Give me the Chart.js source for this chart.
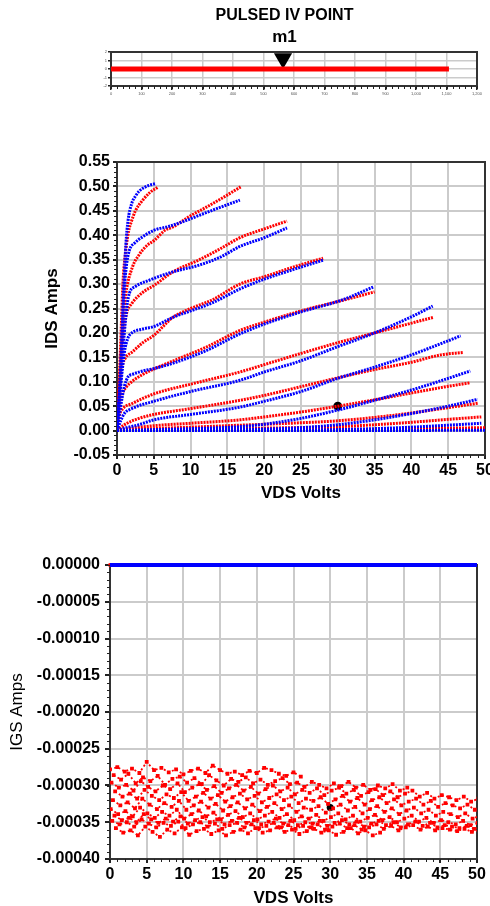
<!DOCTYPE html>
<html>
<head>
<meta charset="utf-8">
<title>Pulsed IV</title>
<script src="https://cdn.jsdelivr.net/npm/chart.js@4.4.1/dist/chart.umd.min.js"></script>
<style>
  html, body { margin: 0; padding: 0; background: #fff; overflow: hidden; }
  body { width: 490px; height: 906px; position: relative; }
  canvas { position: absolute; left: 0; }
</style>
</head>
<body>
<canvas id="slider" width="490" height="100" style="top:0"></canvas>
<canvas id="grafico" width="490" height="385" style="top:130px"></canvas>
<canvas id="graficoIgs" width="490" height="372" style="top:540px"></canvas>
<script>
// ---- datos del slider (punto de pulso) ----
const pulsoEje = [0, 1108]
const marcadorPulso = 564

// ---- curvas IDS vs VDS, pares [VDS, IDS] ----
const azul1 = [[0,0],[0.5,0.12],[0.8,0.25],[1.0,0.32],[1.2,0.38],[1.5,0.43],[2.0,0.465],[2.5,0.48],[3,0.49],[4,0.5],[5.3,0.506]]
const rojo1 = [[0,0],[0.3,0.1],[0.6,0.22],[0.8,0.3],[1.2,0.37],[1.6,0.41],[2,0.43],[2.5,0.45],[3.5,0.472],[4.5,0.488],[5.5,0.498]]
const azul2 = [[0,0],[0.4,0.1],[0.7,0.2],[1,0.29],[1.3,0.34],[1.7,0.37],[2.4,0.384],[3.5,0.397],[5,0.41],[7,0.418],[9,0.428],[11.2,0.441],[14,0.457],[16.7,0.472]]
const rojo2 = [[0,0],[0.4,0.12],[0.8,0.22],[1.2,0.28],[2.1,0.335],[3,0.36],[4,0.378],[5.1,0.39],[6.5,0.41],[7.6,0.417],[10,0.44],[12.2,0.458],[14.5,0.478],[16.8,0.499]]
const azul3 = [[0,0],[0.5,0.1],[1,0.2],[1.4,0.26],[1.7,0.282],[2.5,0.295],[4.4,0.308],[7.6,0.325],[11.2,0.339],[14,0.355],[16.7,0.377],[20,0.395],[23.1,0.415]]
const rojo3 = [[0,0],[0.4,0.1],[0.8,0.19],[1.3,0.24],[2,0.26],[3.5,0.283],[5.1,0.298],[7.6,0.325],[11.2,0.35],[14,0.372],[16.7,0.395],[20,0.413],[23.1,0.429]]
const azul4 = [[0,0],[0.5,0.09],[1,0.16],[1.5,0.19],[2,0.2],[3.5,0.208],[5,0.213],[7.6,0.232],[10,0.245],[13,0.262],[16.7,0.29],[20,0.31],[24,0.33],[28,0.349]]
const rojo4 = [[0,0],[0.3,0.08],[0.7,0.13],[1.2,0.15],[2,0.16],[3.5,0.18],[5,0.195],[7.6,0.232],[10,0.25],[13,0.268],[16.7,0.3],[20,0.315],[24,0.335],[28,0.353]]
const azul5 = [[0,0],[0.5,0.05],[1,0.09],[1.5,0.11],[2.1,0.115],[3.5,0.122],[5.3,0.128],[8,0.14],[12,0.163],[16.7,0.198],[20,0.218],[25,0.243],[30.7,0.268],[34.8,0.294]]
const rojo5 = [[0,0],[0.3,0.05],[0.7,0.075],[1.3,0.09],[2,0.1],[3.5,0.115],[5.3,0.128],[8,0.145],[12,0.17],[16.7,0.205],[20,0.222],[25,0.245],[30.7,0.267],[35,0.284]]
const azul6 = [[0,0],[0.5,0.02],[1,0.035],[2,0.045],[5,0.06],[10,0.08],[16.7,0.103],[20,0.12],[25,0.143],[30,0.172],[35,0.2],[40,0.233],[42.9,0.255]]
const rojo6 = [[0,0],[0.3,0.03],[0.8,0.045],[2,0.055],[5,0.075],[10,0.095],[16.7,0.12],[20,0.135],[25,0.158],[30,0.18],[35,0.2],[40,0.22],[43,0.232]]
const azul7 = [[0,0],[1,0.005],[3,0.012],[5,0.022],[10,0.033],[16.7,0.048],[20,0.06],[25,0.08],[30,0.107],[35,0.13],[40,0.155],[44,0.178],[46.7,0.194]]
const rojo7 = [[0,0],[1,0.012],[3,0.025],[5,0.033],[10,0.045],[16.7,0.062],[20,0.072],[25,0.09],[30,0.108],[35,0.125],[40,0.14],[44,0.155],[47,0.16]]
const azul8 = [[0,0],[5,0.002],[10,0.004],[16.7,0.008],[20,0.013],[25,0.025],[30,0.042],[35,0.062],[40,0.083],[44,0.102],[48,0.122]]
const rojo8 = [[0,0],[2,0.005],[5,0.01],[10,0.015],[16.7,0.022],[20,0.028],[25,0.038],[30,0.05],[35,0.063],[40,0.077],[44,0.088],[48,0.098]]
const azul9 = [[0,0],[10,0.001],[16.7,0.002],[25,0.006],[30,0.012],[35,0.022],[40,0.035],[45,0.05],[49,0.064]]
const rojo9 = [[0,0],[5,0.004],[10,0.007],[16.7,0.011],[25,0.016],[30,0.02],[35,0.027],[40,0.036],[45,0.047],[49,0.056]]
const azul10 = [[0,0],[20,0.001],[30,0.002],[35,0.004],[40,0.007],[45,0.011],[49.5,0.015]]
const rojo10 = [[0,0],[10,0.002],[20,0.005],[30,0.008],[35,0.012],[40,0.017],[45,0.023],[49.5,0.028]]
const azul11 = [[0,0],[50,0.0005]]
const rojo11 = [[0,0],[20,0.001],[35,0.003],[50,0.006]]
const rojo12 = [[0,0],[15,0.0005],[35,0.001],[50,0.002]]
const marcadorIds = [30, 0.05]

// ---- IGS vs VDS (uA), un punto por volt; VDS inicial de cada traza ----
const inicioTraza = [0, 0.5, 0.2, 0.7, 0.4, 0.1, 0.6, 0.3, 0.8]
const traza1 = [-278,-275,-281,-277,-283,-268,-279,-276,-282,-278,-285,-280,-277,-283,-273,-279,-284,-281,-286,-280,-283,-276,-279,-284,-287,-282,-288]
const traza2 = [-286,-292,-284,-297,-289,-294,-287,-299,-291,-288,-296,-290,-298,-286,-293,-300,-291,-295,-289,-297,-292,-299,-294,-290,-298,-296,-302,-295,-299,-304,-297,-301,-295,-303,-299,-306,-300,-304,-298,-307,-303]
const traza3 = [-296,-303,-299,-307,-294,-302,-308,-300,-305,-297,-309,-303,-298,-306,-301,-310,-304,-299,-307,-302,-311,-305,-300,-308,-303,-312,-306,-310,-304,-313,-307,-303,-311,-306,-314,-309,-305,-313,-308,-316,-311,-307,-315,-310,-318,-313,-316,-320,-315,-322,-318]
const traza4 = [-308,-315,-311,-318,-306,-314,-320,-312,-317,-309,-321,-315,-310,-318,-313,-322,-316,-311,-319,-314,-323,-317,-312,-320,-315,-324,-318,-321,-316,-325,-319,-314,-322,-317,-326,-320,-316,-324,-319,-327,-322,-318,-326,-321,-329,-324,-327,-331,-326,-333,-329]
const traza5 = [-320,-327,-323,-331,-318,-326,-332,-324,-329,-321,-333,-327,-322,-330,-325,-334,-328,-323,-331,-326,-335,-329,-324,-332,-327,-336,-330,-333,-328,-337,-331,-326,-334,-329,-338,-332,-328,-336,-331,-339,-334,-330,-338,-333,-341,-336,-339,-343,-338,-345,-341]
const traza6 = [-332,-339,-335,-342,-330,-338,-344,-336,-341,-333,-345,-339,-334,-342,-337,-346,-340,-335,-343,-338,-346,-341,-336,-344,-339,-347,-342,-345,-340,-348,-343,-338,-346,-341,-349,-344,-340,-347,-343,-350,-345,-341,-349,-344,-351,-347,-350,-353,-348,-354,-351]
const traza7 = [-341,-347,-344,-350,-339,-346,-351,-345,-349,-342,-352,-347,-343,-350,-346,-353,-348,-344,-351,-347,-353,-349,-345,-352,-348,-354,-350,-352,-348,-355,-351,-347,-353,-349,-356,-352,-348,-354,-350,-357,-353,-349,-355,-351,-357,-354,-356,-358,-355,-359,-357]
const traza8 = [-348,-353,-350,-356,-346,-352,-357,-351,-355,-349,-358,-353,-350,-356,-352,-359,-354,-351,-357,-353,-358,-355,-351,-357,-354,-359,-355,-357,-353,-360,-356,-352,-358,-354,-360,-357,-353,-359,-355,-361,-357,-354,-360,-356,-361,-358,-360,-362,-359,-363,-361]
const traza9 = [-358,-364,-361,-368,-356,-363,-370,-360,-365,-357,-367,-362,-359,-366,-361,-368,-363,-360,-365,-358,-364,-361,-357,-363,-360,-366,-362,-359,-364,-361,-367,-363,-358,-365,-361,-368,-364]
const marcadorIgs = [30, -330]

const fuente = "'Liberation Sans', Arial, sans-serif"
const grisGrilla = '#cbcbcb'

// ticks menores
const ticksMenores = {
  id: 'ticksMenores',
  afterDraw(chart, args, opts) {
    const { ctx, chartArea, scales } = chart
    ctx.save()
    ctx.strokeStyle = '#222'
    ctx.lineWidth = 1
    if (opts.x) {
      const sx = scales.x
      const n = Math.round((sx.max - sx.min) / opts.x)
      for (let i = 0; i <= n; i++) {
        const px = Math.round(sx.getPixelForValue(sx.min + i * opts.x)) + 0.5
        ctx.beginPath(); ctx.moveTo(px, chartArea.bottom); ctx.lineTo(px, chartArea.bottom + 3); ctx.stroke()
      }
    }
    if (opts.y) {
      const sy = scales.y
      const n = Math.round((sy.max - sy.min) / opts.y)
      for (let i = 0; i <= n; i++) {
        const py = Math.round(sy.getPixelForValue(sy.min + i * opts.y)) + 0.5
        ctx.beginPath(); ctx.moveTo(chartArea.left - 3, py); ctx.lineTo(chartArea.left, py); ctx.stroke()
      }
    }
    ctx.restore()
  }
}
// marco del area de datos
const marco = {
  id: 'marco',
  beforeDatasetsDraw(chart) {
    const { ctx, chartArea: a } = chart
    ctx.save()
    ctx.strokeStyle = '#333'
    ctx.lineWidth = 2
    ctx.strokeRect(a.left, a.top, a.right - a.left, a.bottom - a.top)
    ctx.restore()
  }
}

const fijarEje = (alto, ancho) => (s) => {
  if (alto != null) s.height = alto
  if (ancho != null) s.width = ancho
  s.paddingLeft = 0; s.paddingRight = 0; s.paddingTop = 0; s.paddingBottom = 0
}

// ---------- slider ----------
new Chart(document.querySelector('#slider'), {
  type: 'scatter',
  data: {
    datasets: [
      {
        data: pulsoEje.map(v => ({ x: v, y: 0 })),
        showLine: true, borderColor: '#ff0000', borderWidth: 5, pointRadius: 0
      },
      {
        data: [{ x: marcadorPulso, y: 1.24 }],
        pointStyle: 'triangle', pointRotation: 180, pointRadius: 10.5,
        backgroundColor: '#000', borderWidth: 0
      }
    ]
  },
  plugins: [marco, ticksMenores],
  options: {
    responsive: false, animation: false, devicePixelRatio: 1,
    layout: { padding: { left: 92, right: 13, top: 0, bottom: 0 } },
    plugins: {
      legend: { display: false }, tooltip: { enabled: false },
      title: { display: true, text: 'PULSED IV POINT', color: '#000', font: { family: fuente, size: 16, weight: 'bold' }, padding: { top: 6, bottom: 0 } },
      subtitle: { display: true, text: 'm1', color: '#000', font: { family: fuente, size: 17, weight: 'bold' }, padding: { top: 2, bottom: 4.4 } },
      ticksMenores: { x: 20 }
    },
    scales: {
      x: {
        type: 'linear', min: 0, max: 1200, afterFit: fijarEje(14, null),
        ticks: { stepSize: 100, color: '#555', font: { family: fuente, size: 4 }, padding: 1, maxRotation: 0, autoSkip: false },
        grid: { color: grisGrilla, lineWidth: 1.5, tickLength: 4, tickColor: '#222' },
        border: { color: '#000', width: 2 }
      },
      y: {
        min: -2, max: 2, afterFit: fijarEje(null, 19),
        ticks: { stepSize: 1, color: '#555', font: { family: fuente, size: 4 }, padding: 1 },
        grid: { color: grisGrilla, lineWidth: 1.5, tickLength: 3, tickColor: '#222' },
        border: { color: '#000', width: 2 }
      }
    }
  }
})

// ---------- IDS ----------
const curva = (pares, color) => ({
  data: pares.map(p => ({ x: p[0], y: p[1] })),
  showLine: true, borderColor: color, borderWidth: 3, borderDash: [2, 1],
  pointRadius: 0, cubicInterpolationMode: 'monotone'
})
const curvasAzules = [azul1, azul2, azul3, azul4, azul5, azul6, azul7, azul8, azul9, azul10, azul11]
const curvasRojas = [rojo1, rojo2, rojo3, rojo4, rojo5, rojo6, rojo7, rojo8, rojo9, rojo10, rojo11, rojo12]
const datasetsIds = [
  ...curvasAzules.map(c => curva(c, '#0000ff')),
  ...curvasRojas.map(c => curva(c, '#ff0000')),
  { data: [{ x: marcadorIds[0], y: marcadorIds[1] }], pointRadius: 4.5, backgroundColor: '#000', borderWidth: 0 }
]

const ejeX = (alto, tituloPad) => ({
  type: 'linear', min: 0, max: 50, afterFit: fijarEje(alto, null),
  ticks: { stepSize: 5, color: '#000', font: { family: fuente, size: 16, weight: 'bold' }, padding: 2, maxRotation: 0, autoSkip: false },
  grid: { color: grisGrilla, lineWidth: 2, tickLength: 4, tickColor: '#222' },
  border: { color: '#000', width: 2 },
  title: { display: true, text: 'VDS Volts', color: '#000', font: { family: fuente, size: 17, weight: 'bold' }, padding: { top: 0, bottom: tituloPad } }
})

new Chart(document.querySelector('#grafico'), {
  type: 'scatter',
  data: { datasets: datasetsIds },
  plugins: [marco, ticksMenores],
  options: {
    responsive: false, animation: false, devicePixelRatio: 1,
    layout: { padding: { top: 32, right: 5, left: 0, bottom: 0 } },
    plugins: { legend: { display: false }, tooltip: { enabled: false }, ticksMenores: { x: 1, y: 0.01 } },
    scales: {
      x: ejeX(60, 11.8),
      y: {
        min: -0.05, max: 0.55, afterFit: fijarEje(null, 117),
        ticks: { stepSize: 0.05, color: '#000', font: { family: fuente, size: 16, weight: 'bold' }, padding: 3, callback: v => v.toFixed(2) },
        grid: { color: grisGrilla, lineWidth: 2, tickLength: 4, tickColor: '#222' },
        border: { color: '#000', width: 2 },
        title: { display: true, text: 'IDS Amps', color: '#000', font: { family: fuente, size: 17, weight: 'bold' }, padding: { top: 41.8, bottom: 0 } }
      }
    }
  }
})

// ---------- IGS ----------
const trazas = [traza1, traza2, traza3, traza4, traza5, traza6, traza7, traza8, traza9]
const datasetsIgs = trazas.map((t, k) => ({
  data: t.map((v, i) => ({ x: inicioTraza[k] + i, y: v / 1e6 })),
  showLine: true, borderColor: '#ff0000', borderWidth: 1.8, borderDash: [2, 2.5],
  pointRadius: 1.4, pointStyle: 'rect', backgroundColor: '#ff0000'
}))
datasetsIgs.push({
  data: [{ x: 0, y: 0 }, { x: 50, y: 0 }],
  showLine: true, borderColor: '#0000ff', borderWidth: 4, pointRadius: 0, clip: 4
})
datasetsIgs.push({ data: [{ x: 0, y: 0 }], pointRadius: 2, backgroundColor: '#ff0000', borderWidth: 0, clip: 4 })
datasetsIgs.push({
  data: [{ x: marcadorIgs[0], y: marcadorIgs[1] / 1e6 }],
  pointRadius: 3.5, backgroundColor: '#000', borderWidth: 0
})

new Chart(document.querySelector('#graficoIgs'), {
  type: 'scatter',
  data: { datasets: datasetsIgs },
  plugins: [marco, ticksMenores],
  options: {
    responsive: false, animation: false, devicePixelRatio: 1,
    layout: { padding: { top: 25, right: 13, left: 0, bottom: 0 } },
    plugins: { legend: { display: false }, tooltip: { enabled: false }, ticksMenores: { x: 1, y: 0.00001 } },
    scales: {
      x: ejeX(53, 3.8),
      y: {
        min: -0.0004, max: 0, afterFit: fijarEje(null, 110),
        ticks: { stepSize: 0.00005, color: '#000', font: { family: fuente, size: 16, weight: 'bold' }, padding: 5,
          callback: v => Math.abs(v) < 1e-12 ? '0.00000' : v.toFixed(5) },
        grid: { color: grisGrilla, lineWidth: 2, tickLength: 5, tickColor: '#222' },
        border: { color: '#000', width: 2 },
        title: { display: true, text: 'IGS Amps', color: '#000', font: { family: fuente, size: 17 }, padding: { top: 7, bottom: 0 } }
      }
    }
  }
})
</script>
</body>
</html>
